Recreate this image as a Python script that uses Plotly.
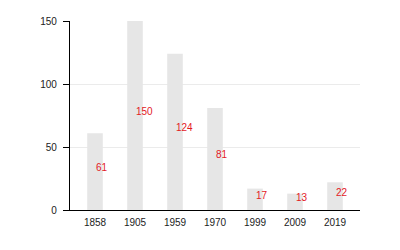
import plotly.graph_objects as go

years = ["1858", "1905", "1959", "1970", "1999", "2009", "2019"]
counts = [61, 150, 124, 81, 17, 13, 22]
y_ticks = [0, 50, 100, 150]

FONT = "Liberation Sans, Arial, sans-serif"

fig = go.Figure()
fig.add_trace(go.Bar(
    x=years, y=counts,
    marker=dict(color="#e6e6e6", line=dict(width=0)),
    width=0.39,
    hoverinfo="skip",
))

for i, c in enumerate(counts):
    fig.add_annotation(
        x=i, y=c / 2, xref="x", yref="y",
        text=str(c), showarrow=False,
        xanchor="left", yanchor="middle", xshift=-1, yshift=4,
        font=dict(family=FONT, size=10, color="#e3191f"),
    )

fig.update_layout(
    template="none",
    width=400, height=250,
    margin=dict(l=70, r=40, t=21, b=40),
    paper_bgcolor="white", plot_bgcolor="white",
    showlegend=False,
    font=dict(family=FONT, size=10, color="#222222"),
    xaxis=dict(
        type="category", range=[-0.625, 6.625],
        showline=True, linecolor="black", linewidth=1.2,
        ticks="", showgrid=False, ticklabelstandoff=3,
        tickfont=dict(family=FONT, size=10, color="#222222"),
    ),
    yaxis=dict(
        range=[0, 150], tickvals=y_ticks,
        showline=True, linecolor="black", linewidth=1.2,
        ticks="outside", ticklen=6, tickcolor="black", tickwidth=1,
        showgrid=True, gridcolor="#ebebeb", gridwidth=1,
        zeroline=False, ticklabelstandoff=4,
        tickfont=dict(family=FONT, size=10, color="#222222"),
    ),
)

fig.write_html("out.html")
